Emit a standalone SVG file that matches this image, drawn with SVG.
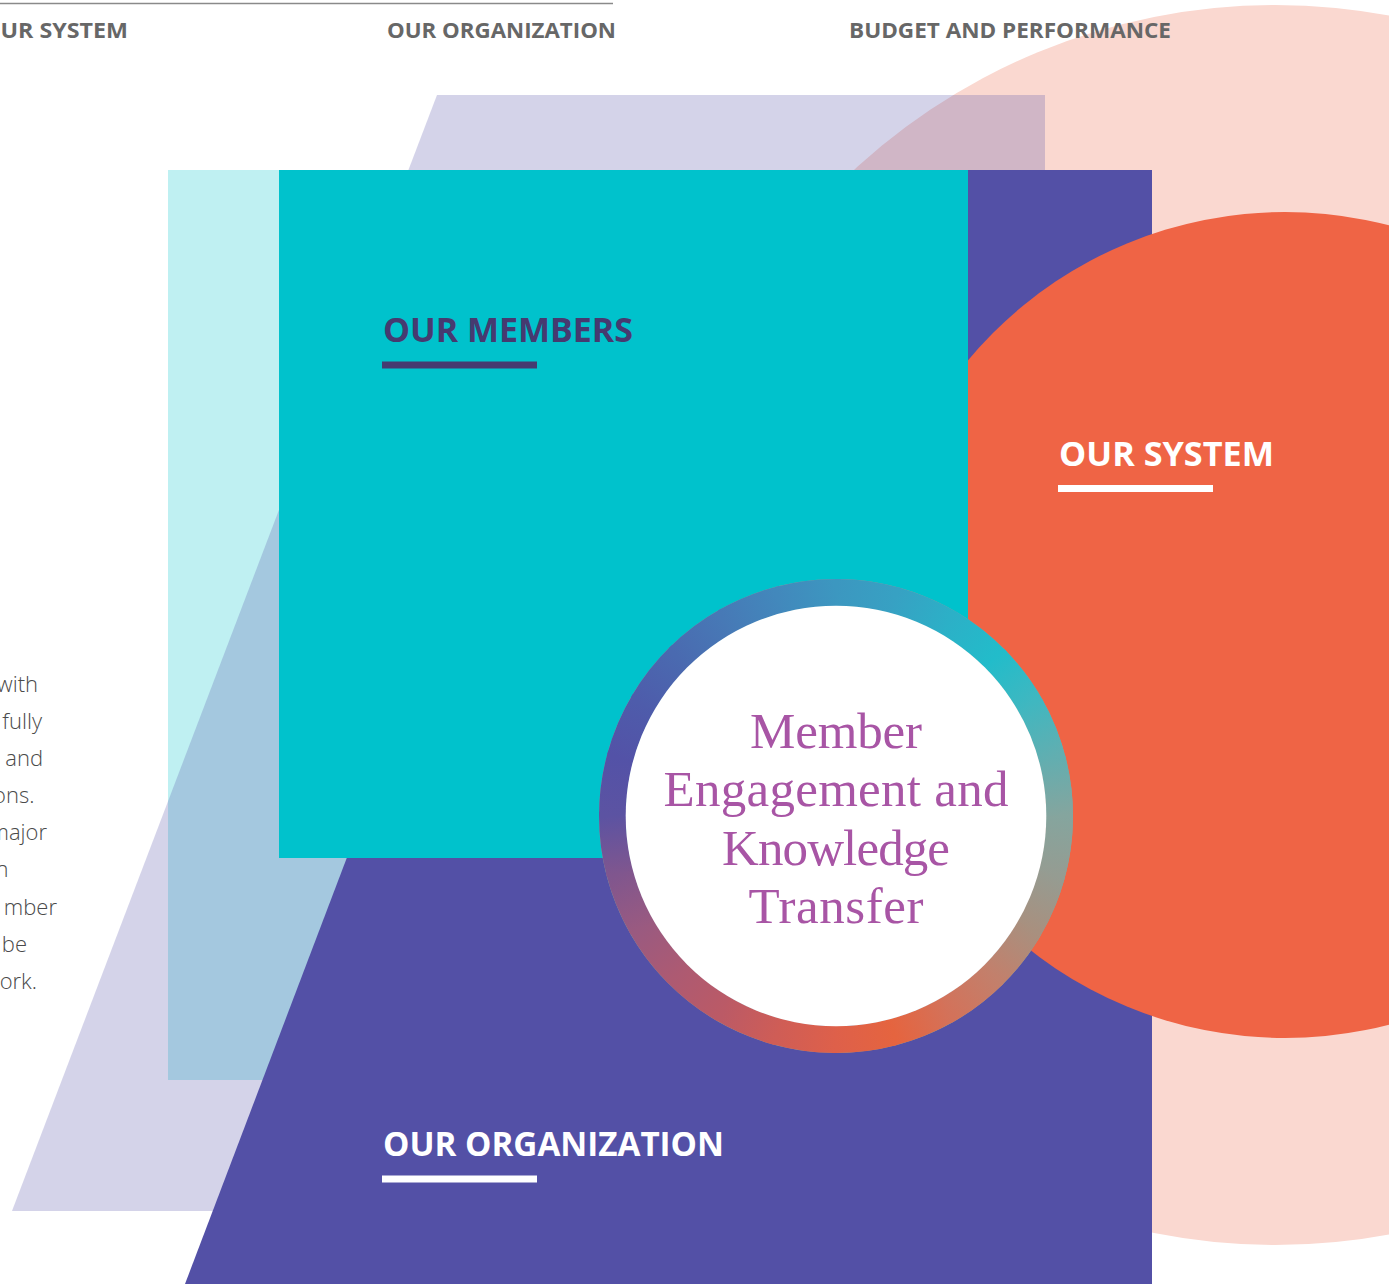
<svg xmlns="http://www.w3.org/2000/svg" width="1389" height="1284" viewBox="0 0 1389 1284">
<style>
.nav{font-family:"Open Sans","Liberation Sans",sans-serif;font-weight:700;font-size:22px;fill:#676767}
.para{font-family:"Open Sans","Liberation Sans",sans-serif;font-weight:300;font-size:22px;fill:#4a4a4a}
.head{font-family:"Open Sans","Liberation Sans",sans-serif;font-weight:700;font-size:34px}
.serif{font-family:"Liberation Serif","DejaVu Serif",serif;font-size:51px;fill:#A855A5;text-anchor:middle}
.seg{fill:none;stroke-width:27;stroke-dasharray:62.4 1500}
</style>
<defs>
<linearGradient id="s0" gradientUnits="userSpaceOnUse" x1="836" y1="592.5" x2="893.84" y2="600.12"><stop offset="0" stop-color="#3C97C0"/><stop offset="1" stop-color="#37A1C3"/></linearGradient>
<linearGradient id="s15" gradientUnits="userSpaceOnUse" x1="893.84" y1="600.12" x2="947.75" y2="622.45"><stop offset="0" stop-color="#37A1C3"/><stop offset="1" stop-color="#2CB0C7"/></linearGradient>
<linearGradient id="s30" gradientUnits="userSpaceOnUse" x1="947.75" y1="622.45" x2="994.04" y2="657.96"><stop offset="0" stop-color="#2CB0C7"/><stop offset="1" stop-color="#22BCCA"/></linearGradient>
<linearGradient id="s45" gradientUnits="userSpaceOnUse" x1="994.04" y1="657.96" x2="1029.55" y2="704.25"><stop offset="0" stop-color="#22BCCA"/><stop offset="1" stop-color="#40B7C0"/></linearGradient>
<linearGradient id="s60" gradientUnits="userSpaceOnUse" x1="1029.55" y1="704.25" x2="1051.88" y2="758.16"><stop offset="0" stop-color="#40B7C0"/><stop offset="1" stop-color="#62AEB0"/></linearGradient>
<linearGradient id="s75" gradientUnits="userSpaceOnUse" x1="1051.88" y1="758.16" x2="1059.5" y2="816"><stop offset="0" stop-color="#62AEB0"/><stop offset="1" stop-color="#85A59E"/></linearGradient>
<linearGradient id="s90" gradientUnits="userSpaceOnUse" x1="1059.5" y1="816" x2="1051.88" y2="873.84"><stop offset="0" stop-color="#85A59E"/><stop offset="1" stop-color="#959C92"/></linearGradient>
<linearGradient id="s105" gradientUnits="userSpaceOnUse" x1="1051.88" y1="873.84" x2="1029.55" y2="927.75"><stop offset="0" stop-color="#959C92"/><stop offset="1" stop-color="#A8907F"/></linearGradient>
<linearGradient id="s120" gradientUnits="userSpaceOnUse" x1="1029.55" y1="927.75" x2="994.04" y2="974.04"><stop offset="0" stop-color="#A8907F"/><stop offset="1" stop-color="#C2806C"/></linearGradient>
<linearGradient id="s135" gradientUnits="userSpaceOnUse" x1="994.04" y1="974.04" x2="947.75" y2="1009.55"><stop offset="0" stop-color="#C2806C"/><stop offset="1" stop-color="#D3725A"/></linearGradient>
<linearGradient id="s150" gradientUnits="userSpaceOnUse" x1="947.75" y1="1009.55" x2="893.84" y2="1031.88"><stop offset="0" stop-color="#D3725A"/><stop offset="1" stop-color="#E5643F"/></linearGradient>
<linearGradient id="s165" gradientUnits="userSpaceOnUse" x1="893.84" y1="1031.88" x2="836" y2="1039.5"><stop offset="0" stop-color="#E5643F"/><stop offset="1" stop-color="#DE604A"/></linearGradient>
<linearGradient id="s180" gradientUnits="userSpaceOnUse" x1="836" y1="1039.5" x2="778.16" y2="1031.88"><stop offset="0" stop-color="#DE604A"/><stop offset="1" stop-color="#CF5D56"/></linearGradient>
<linearGradient id="s195" gradientUnits="userSpaceOnUse" x1="778.16" y1="1031.88" x2="724.25" y2="1009.55"><stop offset="0" stop-color="#CF5D56"/><stop offset="1" stop-color="#BB5A66"/></linearGradient>
<linearGradient id="s210" gradientUnits="userSpaceOnUse" x1="724.25" y1="1009.55" x2="677.96" y2="974.04"><stop offset="0" stop-color="#BB5A66"/><stop offset="1" stop-color="#AD5A72"/></linearGradient>
<linearGradient id="s225" gradientUnits="userSpaceOnUse" x1="677.96" y1="974.04" x2="642.45" y2="927.75"><stop offset="0" stop-color="#AD5A72"/><stop offset="1" stop-color="#9A5A80"/></linearGradient>
<linearGradient id="s240" gradientUnits="userSpaceOnUse" x1="642.45" y1="927.75" x2="620.12" y2="873.84"><stop offset="0" stop-color="#9A5A80"/><stop offset="1" stop-color="#80568E"/></linearGradient>
<linearGradient id="s255" gradientUnits="userSpaceOnUse" x1="620.12" y1="873.84" x2="612.5" y2="816"><stop offset="0" stop-color="#80568E"/><stop offset="1" stop-color="#5C53A2"/></linearGradient>
<linearGradient id="s270" gradientUnits="userSpaceOnUse" x1="612.5" y1="816" x2="620.12" y2="758.16"><stop offset="0" stop-color="#5C53A2"/><stop offset="1" stop-color="#5352A7"/></linearGradient>
<linearGradient id="s285" gradientUnits="userSpaceOnUse" x1="620.12" y1="758.16" x2="642.45" y2="704.25"><stop offset="0" stop-color="#5352A7"/><stop offset="1" stop-color="#4E5CAB"/></linearGradient>
<linearGradient id="s300" gradientUnits="userSpaceOnUse" x1="642.45" y1="704.25" x2="677.96" y2="657.96"><stop offset="0" stop-color="#4E5CAB"/><stop offset="1" stop-color="#4A6AB0"/></linearGradient>
<linearGradient id="s315" gradientUnits="userSpaceOnUse" x1="677.96" y1="657.96" x2="724.25" y2="622.45"><stop offset="0" stop-color="#4A6AB0"/><stop offset="1" stop-color="#4779B6"/></linearGradient>
<linearGradient id="s330" gradientUnits="userSpaceOnUse" x1="724.25" y1="622.45" x2="778.16" y2="600.12"><stop offset="0" stop-color="#4779B6"/><stop offset="1" stop-color="#4288BC"/></linearGradient>
<linearGradient id="s345" gradientUnits="userSpaceOnUse" x1="778.16" y1="600.12" x2="836" y2="592.5"><stop offset="0" stop-color="#4288BC"/><stop offset="1" stop-color="#3C97C0"/></linearGradient>
</defs>
<rect width="1389" height="1284" fill="#ffffff"/>

<g id="backdrop">
<circle cx="1275" cy="625" r="620" fill="#FAD8D0"/>
<rect x="168" y="170" width="450" height="910" fill="#BFF0F2"/>
<polygon points="437,95 1045,95 1045,1211 12,1211" fill="#5350A6" fill-opacity="0.25"/>
</g>

<g id="paragraph-fragment">
<text class="para" x="38" y="692" text-anchor="end">with</text>
<text class="para" x="42" y="729" text-anchor="end">fully</text>
<text class="para" x="43" y="766" text-anchor="end">and</text>
<text class="para" x="34.5" y="803" text-anchor="end">ons.</text>
<text class="para" x="47" y="840" text-anchor="end">major</text>
<text class="para" x="8.5" y="877" text-anchor="end">n</text>
<text class="para" x="57" y="915" text-anchor="end">mber</text>
<text class="para" x="27" y="952" text-anchor="end">be</text>
<text class="para" x="37" y="989" text-anchor="end">ork.</text>
</g>

<g id="node-organization">
<polygon points="608,170 1152,170 1152,1284 185,1284" fill="#5350A6"/>
</g>

<g id="node-system">
<circle cx="1285" cy="625" r="413" fill="#EF6445"/>
<text class="head" x="1059" y="466" fill="#ffffff" textLength="215" lengthAdjust="spacingAndGlyphs">OUR SYSTEM</text>
<rect x="1058" y="485" width="155" height="7" fill="#ffffff"/>
</g>

<g id="node-members">
<rect x="279" y="170" width="689" height="688" fill="#00C2CC"/>
<text class="head" x="383" y="342" fill="#463A70" textLength="250" lengthAdjust="spacingAndGlyphs">OUR MEMBERS</text>
<rect x="382" y="361.5" width="155" height="7" fill="#463A70"/>
</g>

<g id="organization-label">
<text class="head" x="383" y="1156" fill="#ffffff" textLength="341" lengthAdjust="spacingAndGlyphs">OUR ORGANIZATION</text>
<rect x="382" y="1175.5" width="155" height="7" fill="#ffffff"/>
</g>

<g id="connectors"></g>

<g id="node-center">
<circle cx="836" cy="816" r="223.5" fill="none" stroke="#85A59E" stroke-width="27"/>
<circle class="seg" cx="836" cy="816" r="223.5" stroke="url(#s90)" stroke-dashoffset="0"/>
<circle class="seg" cx="836" cy="816" r="223.5" stroke="url(#s105)" stroke-dashoffset="-58.51"/>
<circle class="seg" cx="836" cy="816" r="223.5" stroke="url(#s120)" stroke-dashoffset="-117.02"/>
<circle class="seg" cx="836" cy="816" r="223.5" stroke="url(#s135)" stroke-dashoffset="-175.54"/>
<circle class="seg" cx="836" cy="816" r="223.5" stroke="url(#s150)" stroke-dashoffset="-234.05"/>
<circle class="seg" cx="836" cy="816" r="223.5" stroke="url(#s165)" stroke-dashoffset="-292.56"/>
<circle class="seg" cx="836" cy="816" r="223.5" stroke="url(#s180)" stroke-dashoffset="-351.07"/>
<circle class="seg" cx="836" cy="816" r="223.5" stroke="url(#s195)" stroke-dashoffset="-409.59"/>
<circle class="seg" cx="836" cy="816" r="223.5" stroke="url(#s210)" stroke-dashoffset="-468.10"/>
<circle class="seg" cx="836" cy="816" r="223.5" stroke="url(#s225)" stroke-dashoffset="-526.61"/>
<circle class="seg" cx="836" cy="816" r="223.5" stroke="url(#s240)" stroke-dashoffset="-585.12"/>
<circle class="seg" cx="836" cy="816" r="223.5" stroke="url(#s255)" stroke-dashoffset="-643.63"/>
<circle class="seg" cx="836" cy="816" r="223.5" stroke="url(#s270)" stroke-dashoffset="-702.15"/>
<circle class="seg" cx="836" cy="816" r="223.5" stroke="url(#s285)" stroke-dashoffset="-760.66"/>
<circle class="seg" cx="836" cy="816" r="223.5" stroke="url(#s300)" stroke-dashoffset="-819.17"/>
<circle class="seg" cx="836" cy="816" r="223.5" stroke="url(#s315)" stroke-dashoffset="-877.68"/>
<circle class="seg" cx="836" cy="816" r="223.5" stroke="url(#s330)" stroke-dashoffset="-936.19"/>
<circle class="seg" cx="836" cy="816" r="223.5" stroke="url(#s345)" stroke-dashoffset="-994.71"/>
<circle class="seg" cx="836" cy="816" r="223.5" stroke="url(#s0)" stroke-dashoffset="-1053.22"/>
<circle class="seg" cx="836" cy="816" r="223.5" stroke="url(#s15)" stroke-dashoffset="-1111.73"/>
<circle class="seg" cx="836" cy="816" r="223.5" stroke="url(#s30)" stroke-dashoffset="-1170.24"/>
<circle class="seg" cx="836" cy="816" r="223.5" stroke="url(#s45)" stroke-dashoffset="-1228.76"/>
<circle class="seg" cx="836" cy="816" r="223.5" stroke="url(#s60)" stroke-dashoffset="-1287.27"/>
<circle class="seg" cx="836" cy="816" r="223.5" stroke="url(#s75)" stroke-dashoffset="-1345.78"/>
<circle cx="836" cy="816" r="210.3" fill="#ffffff"/>
<text class="serif" x="836" y="748" textLength="172" lengthAdjust="spacing">Member</text>
<text class="serif" x="836" y="806" textLength="345" lengthAdjust="spacing">Engagement and</text>
<text class="serif" x="836" y="865" textLength="228" lengthAdjust="spacing">Knowledge</text>
<text class="serif" x="836" y="923" textLength="175" lengthAdjust="spacing">Transfer</text>
</g>

<g id="top-nav">
<line x1="0" y1="3.5" x2="613" y2="3.5" stroke="#8a8a8a" stroke-width="1.5"/>
<text class="nav" x="128" y="38" text-anchor="end" textLength="146" lengthAdjust="spacingAndGlyphs">OUR SYSTEM</text>
<text class="nav" x="387" y="38" textLength="229" lengthAdjust="spacingAndGlyphs">OUR ORGANIZATION</text>
<text class="nav" x="849" y="38" textLength="322" lengthAdjust="spacingAndGlyphs">BUDGET AND PERFORMANCE</text>
</g>
</svg>
